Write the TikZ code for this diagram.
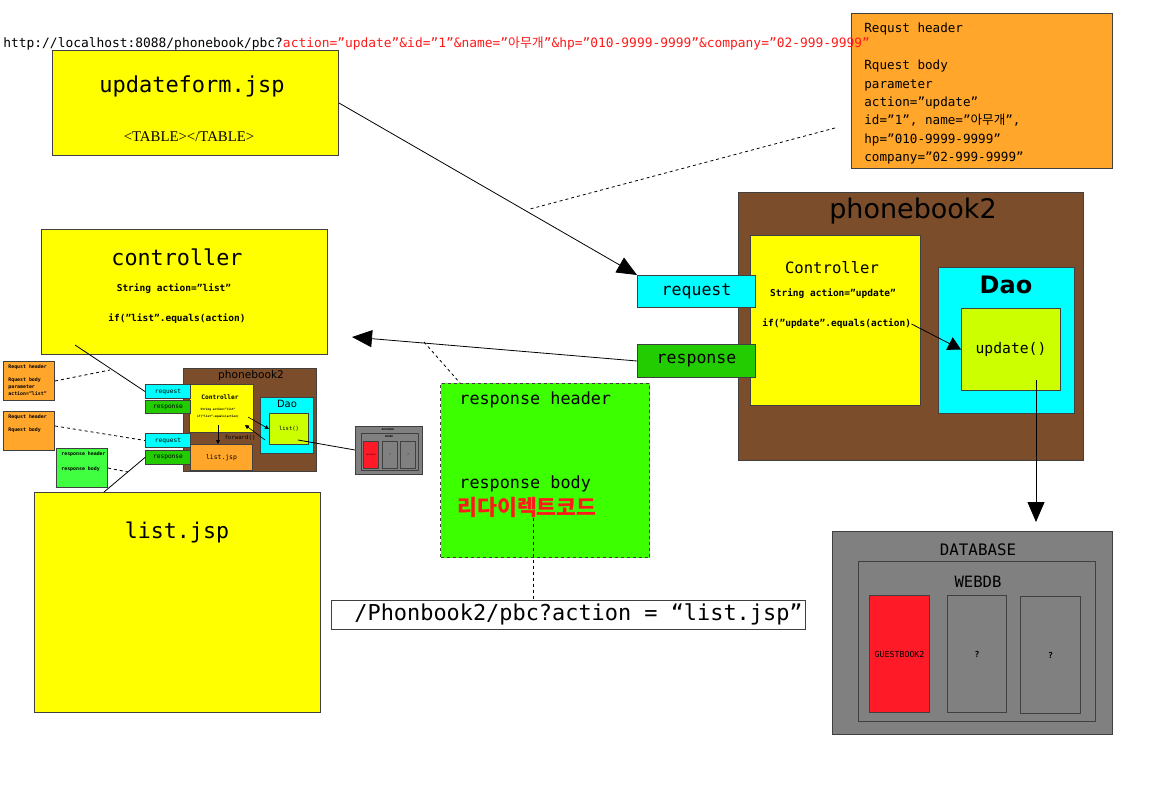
\documentclass[tikz,border=0pt]{standalone}
\usepackage{fontspec}
\usepackage{xcolor}
\setmainfont{DejaVu Sans Mono}
\newfontfamily\sansf{DejaVu Sans}
\newfontfamily\serf{Liberation Serif}
\newfontfamily\kr{Noto Sans CJK KR}
\usetikzlibrary{arrows.meta}

\definecolor{jspyellow}{HTML}{FFFF00}
\definecolor{reqorange}{HTML}{FFA62B}
\definecolor{appbrown}{HTML}{7B4D2A}
\definecolor{daocyan}{HTML}{00FFFF}
\definecolor{resgreen}{HTML}{22CC00}
\definecolor{methlime}{HTML}{CCFF00}
\definecolor{bodygreen}{HTML}{3CFF00}
\definecolor{headgreen}{HTML}{40FF40}
\definecolor{dbgray}{HTML}{808080}
\definecolor{tblred}{HTML}{FF1A28}
\definecolor{txtred}{HTML}{FF1A1A}

\newcommand\fsz[2]{\fontsize{#1}{#2}\selectfont}

\begin{document}
\begin{tikzpicture}[x=1pt, y=-1pt, line width=.8pt,
    box/.style={draw=black!75, anchor=north west, inner sep=0pt, line width=1pt},
    lbl/.style={inner sep=0pt},
    bigtip/.style={-{Triangle[length=20pt,width=17pt]}},
    midtip/.style={-{Triangle[length=13pt,width=14pt]}},
    smalltip/.style={-{Triangle[length=4pt,width=4pt]}}]
             \useasboundingbox (0,0) rectangle (1159,791);

             \node[box, fill=reqorange, minimum width=261, minimum height=155] (reqhead) at (851,13) {};
             \node[lbl, anchor=north west, align=left, font=\fsz{12.6}{18.4}] (reqtext) at (864,23)
                  {Requst header\\[18.4pt]Rquest body\\parameter\\action=”update”\\id=”1”, name=”{\kr 아무개}”,\\hp=”010-9999-9999”\\company=”02-999-9999”};
             \node[lbl, anchor=west, font=\fsz{12.9}{14}] (url) at (3,44)
                  {http://localhost:8088/phonebook/pbc?\textcolor{txtred}{action=”update”\&id=”1”\&name=”{\kr 아무개}”\&hp=”010-9999-9999”\&company=”02-999-9999”}};

             \node[box, fill=jspyellow, minimum width=286, minimum height=105] (updf) at (52,50) {};
             \node[lbl, font=\fsz{22}{24}] (updftitle) at (192,86) {updateform.jsp};
             \node[lbl, font=\serf\fsz{14.8}{16}] (updftable) at (189,137) {<TABLE></TABLE>};

             \node[box, fill=appbrown, minimum width=345, minimum height=268] (pb) at (738,192) {};
             \node[lbl, font=\sansf\fsz{27}{30}] (pbtitle) at (913,211) {phonebook2};
             \node[box, fill=jspyellow, minimum width=170, minimum height=170] (ctl) at (750,235) {};
             \node[lbl, font=\fsz{15.6}{17}] (ctltitle) at (832,268) {Controller};
             \node[lbl, font=\bfseries\fsz{9.5}{11}] (ctlstr) at (833,294) {String action=”update”};
             \node[lbl, anchor=west, font=\bfseries\fsz{9.5}{11}] (ctlif) at (762,324) {if(”update”.equals(action)};
             \node[box, fill=daocyan, minimum width=136, minimum height=146] (dao) at (938,267) {};
             \node[lbl, font=\sansf\bfseries\fsz{24}{27}] (daotitle) at (1006,285) {Dao};
             \node[box, fill=methlime, minimum width=99, minimum height=82, font=\fsz{14.7}{16}] (upd) at (961,308) {update()};

             \node[box, fill=daocyan, minimum width=118, minimum height=32, font=\fsz{16.6}{18}] (req) at (637,275) {request};
             \node[box, fill=resgreen, minimum width=118, minimum height=33, font=\fsz{16.6}{18}] (resp) at (637,344) {response};

             \coordinate (reqdash) at (835,128);
             \coordinate (reqdashend) at (530,209);
             \coordinate (ctltip) at (352,337);
             \coordinate (respdash) at (424,342);
             \coordinate (updbottom) at (1036,380);
             \coordinate (dbtip) at (1036,522);

             \draw[dashed] (reqdash) -- (reqdashend);
             \draw[bigtip] (updf.east) -- (req.north west);
             \draw[bigtip] (resp.west) -- (ctltip);
             \draw[midtip] (ctlif.east) -- (upd.west);
             \draw[bigtip] (updbottom) -- (dbtip);

             \node[box, fill=bodygreen, dashed, minimum width=209, minimum height=174] (body) at (440,383) {};
             \draw[dashed] (respdash) -- (body.north west -| 460,0);
             \node[lbl, anchor=west, font=\fsz{16.8}{18}] (bodyhead) at (459,400) {response header};
             \node[lbl, anchor=west, font=\fsz{16.8}{18}] (bodybody) at (459,484) {response body};
             \node[lbl, anchor=west, font=\kr\bfseries\fsz{21.6}{23}, text=txtred] (redir) at (457,507) {리다이렉트코드};

             \node[box, fill=white, minimum width=474, minimum height=29] (urlbox) at (331,600) {};
             \node[lbl, anchor=west, font=\fsz{21.9}{24}] (urltext) at (354,614) {/Phonbook2/pbc?action = “list.jsp”};
             \draw[dashed] (redir.south -| 533,0) -- (urlbox.north -| 533,0);

             \node[box, fill=jspyellow, minimum width=286, minimum height=125] (ctrl) at (41,229) {};
             \node[lbl, font=\fsz{21.8}{24}] (ctrltitle) at (177,257) {controller};
             \node[lbl, font=\bfseries\fsz{9.5}{11}] (ctrlstr) at (174,289) {String action=”list”};
             \node[lbl, font=\bfseries\fsz{9.5}{11}] (ctrlif) at (177,319) {if(”list”.equals(action)};

             \node[box, fill=jspyellow, minimum width=286, minimum height=220] (list) at (34,492) {};
             \node[lbl, font=\fsz{21.6}{24}] (listtitle) at (177,532) {list.jsp};

             \node[box, fill=reqorange, minimum width=51, minimum height=39] (sreqh1) at (3,361) {};
             \node[lbl, anchor=north west, align=left, font=\bfseries\fsz{4.9}{6.9}] (sreqh1txt) at (8,364)
                  {Requst header\\[6.9pt]Rquest body\\parameter\\action=”list”};
             \node[box, fill=reqorange, minimum width=51, minimum height=39] (sreqh2) at (3,411) {};
             \node[lbl, anchor=north west, align=left, font=\bfseries\fsz{4.9}{6.9}] (sreqh2txt) at (8,414)
                  {Requst header\\[6.9pt]Rquest body};
             \node[box, fill=headgreen, minimum width=51, minimum height=39] (sresh) at (56,448) {};
             \node[lbl, anchor=north west, align=left, font=\bfseries\fsz{4.9}{7.5}] (sreshtxt) at (61,451)
                  {response header\\[7.5pt]response body};

             \node[box, fill=appbrown, minimum width=133, minimum height=103] (spb) at (183,368) {};
             \node[lbl, font=\sansf\fsz{10.6}{12}] (spbtitle) at (251,376) {phonebook2};
             \node[box, fill=jspyellow, minimum width=64, minimum height=48] (sctl) at (189,384) {};
             \node[lbl, font=\bfseries\fsz{6.2}{7}] (sctltitle) at (220,397) {Controller};
             \node[lbl, align=center, font=\bfseries\fsz{2.9}{7.5}] (sctlcode) at (218,413) {String action=”list”\\if(”list”.equals(action)};
             \node[box, fill=reqorange, minimum width=62, minimum height=26, font=\fsz{6.4}{7}] (slist) at (190,444) {list.jsp};
             \node[box, fill=daocyan, minimum width=53, minimum height=56] (sdao) at (260,397) {};
             \node[lbl, font=\sansf\fsz{10}{11}] (sdaotitle) at (287,404) {Dao};
             \node[box, fill=methlime, minimum width=39, minimum height=31, font=\fsz{5.5}{6}] (slistm) at (269,413) {list()};
             \node[lbl, font=\fsz{5.7}{6}] (sfwd) at (240,438) {forward()};

             \node[box, fill=daocyan, minimum width=45, minimum height=14, font=\fsz{6.2}{7}] (sreq1) at (145,384) {request};
             \node[box, fill=resgreen, minimum width=45, minimum height=13, font=\fsz{6.2}{7}] (sresp1) at (145,400) {response};
             \node[box, fill=daocyan, minimum width=45, minimum height=14, font=\fsz{6.2}{7}] (sreq2) at (145,433) {request};
             \node[box, fill=resgreen, minimum width=45, minimum height=14, font=\fsz{6.2}{7}] (sresp2) at (145,450) {response};

             \coordinate (sctlout) at (248,417);
             \coordinate (sdaoout) at (265,440);
             \coordinate (sctlback) at (245,425);
             \coordinate (sctldown) at (218,425);
             \coordinate (slistout) at (298,440);
             \coordinate (ctrlout) at (75,345);
             \coordinate (listout) at (104,492);

             \draw[smalltip, line width=.6pt] (sctlout) -- (slistm.west);
             \draw[smalltip, line width=.6pt] (sdaoout) -- (sctlback);
             \draw[smalltip, line width=.6pt] (sctldown) -- (slist.north -| sctldown);
             \draw (ctrlout) -- (sreq1.west);
             \draw (listout) -- (sresp2.west);
             \draw[dashed] (sreqh1.east) -- (110,370);
             \draw[dashed] (sreqh2.east |- 0,426) -- (sreq2.west);
             \draw[dashed] (sresh.east) -- (128,472);

             \node[box, fill=dbgray, minimum width=67, minimum height=48] (sdb) at (355,426) {};
             \node[lbl, font=\bfseries\fsz{2.5}{3}] (sdbtitle) at (388,430) {DATABASE};
             \node[box, fill=dbgray, minimum width=57, minimum height=37] (sweb) at (361,433) {};
             \node[lbl, font=\bfseries\fsz{2.5}{3}] (swebtitle) at (389,437) {WEBDB};
             \node[box, fill=tblred, minimum width=15, minimum height=27, font=\fsz{1.6}{2}] (sgb) at (363,441) {GUESTBOOK2};
             \node[box, fill=dbgray, minimum width=15, minimum height=27, font=\fsz{2.5}{3}] (sq1) at (382,441) {?};
             \node[box, fill=dbgray, minimum width=15, minimum height=27, font=\fsz{2.5}{3}] (sq2) at (400,441) {?};
             \draw (slistout) -- (sdb.west |- 0,450);

             \node[box, fill=dbgray, minimum width=280, minimum height=203] (db) at (832,531) {};
             \node[lbl, font=\fsz{15.8}{17}] (dbtitle) at (978,550) {DATABASE};
             \node[box, fill=dbgray, minimum width=237, minimum height=160] (web) at (858,561) {};
             \node[lbl, font=\fsz{15.6}{17}] (webtitle) at (978,582) {WEBDB};
             \node[box, fill=tblred, minimum width=60, minimum height=117, font=\fsz{8.3}{9}] (gb) at (869,595) {GUESTBOOK2};
             \node[box, fill=dbgray, minimum width=59, minimum height=117, font=\bfseries\fsz{8.3}{9}] (q1) at (947,595) {?};
             \node[box, fill=dbgray, minimum width=60, minimum height=117, font=\bfseries\fsz{8.3}{9}] (q2) at (1020,596) {?};
             \end{tikzpicture}
\end{document}
